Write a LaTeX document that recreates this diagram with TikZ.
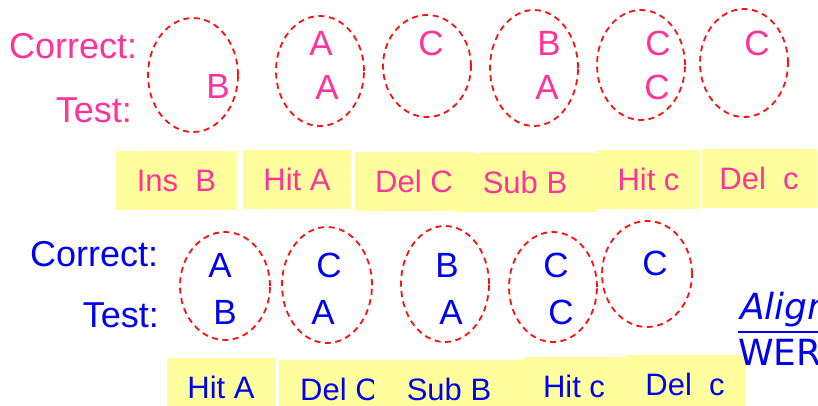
\documentclass[tikz,border=0pt]{standalone}
\usepackage{fontspec}
\setmainfont{Liberation Sans}
\newfontfamily\alignfont{DejaVu Sans}
\usetikzlibrary{shapes.geometric}
\definecolor{werpink}{HTML}{FF3399}
\definecolor{werblue}{HTML}{0000F0}
\definecolor{werred}{HTML}{FF1010}
\definecolor{weryellow}{HTML}{FFFF9E}

\begin{document}
\begin{tikzpicture}[x=1pt,y=-1pt,
  tag/.style={inner sep=0pt,font=\fontsize{36}{36}\selectfont},
  sym/.style={inner sep=0pt,font=\fontsize{35}{35}\selectfont},
  pair/.style={ellipse,draw=werred,line width=1.8pt,dash pattern=on 6pt off 4.5pt,inner sep=0pt},
  op/.style={rectangle,fill=weryellow,inner sep=0pt,minimum height=59pt,font=\fontsize{31}{31}\selectfont}]
  \useasboundingbox (0,0) rectangle (818,405);
  \clip (0,0) rectangle (818,405);

  % first alignment (pink)
  \node[tag,text=werpink,anchor=west] (corA) at (9,46) {Correct:};
  \node[tag,text=werpink,anchor=east] (tstA) at (132,110) {Test:};
  \node[pair,minimum width=90pt,minimum height=114pt] (pa1) at (193,75) {};
  \node[pair,minimum width=88pt,minimum height=110pt] (pa2) at (320,71) {};
  \node[pair,minimum width=88pt,minimum height=102pt] (pa3) at (427,66) {};
  \node[pair,minimum width=88pt,minimum height=116pt] (pa4) at (534,68) {};
  \node[pair,minimum width=88pt,minimum height=110pt] (pa5) at (641,65) {};
  \node[pair,minimum width=88pt,minimum height=108pt] (pa6) at (744,63) {};
  \node[sym,text=werpink] (ta1) at (218,86) {B};
  \node[sym,text=werpink] (ca2) at (321,43) {A};
  \node[sym,text=werpink] (ta2) at (327,87) {A};
  \node[sym,text=werpink] (ca3) at (431,43) {C};
  \node[sym,text=werpink] (ca4) at (549,43) {B};
  \node[sym,text=werpink] (ta4) at (547,87) {A};
  \node[sym,text=werpink] (ca5) at (658,43) {C};
  \node[sym,text=werpink] (ta5) at (657,87) {C};
  \node[sym,text=werpink] (ca6) at (757,43) {C};

  \node[op,text=werpink,minimum width=121pt] (oa1) at (176.5,180.5) {Ins~~B};
  \node[op,text=werpink,minimum width=108pt] (oa2) at (297,179) {Hit A};
  \node[op,text=werpink,minimum width=118pt] (oa3) at (414,181.5) {Del C};
  \node[op,text=werpink,minimum width=144pt] (oa4) at (525,182.5) {Sub B};
  \node[op,text=werpink,minimum width=103pt] (oa5) at (648.5,179.5) {Hit c};
  \node[op,text=werpink,minimum width=116pt] (oa6) at (759,178.5) {Del~~c};

  % second alignment (blue)
  \node[tag,text=werblue,anchor=west] (corB) at (30,254) {Correct:};
  \node[tag,text=werblue,anchor=east] (tstB) at (159,315) {Test:};
  \node[pair,minimum width=90pt,minimum height=108pt] (pb1) at (225,286) {};
  \node[pair,minimum width=90pt,minimum height=116pt] (pb2) at (327,285) {};
  \node[pair,minimum width=88pt,minimum height=116pt] (pb3) at (445,284) {};
  \node[pair,minimum width=88pt,minimum height=110pt] (pb4) at (553,287) {};
  \node[pair,minimum width=90pt,minimum height=106pt] (pb5) at (647,274) {};
  \node[sym,text=werblue] (cb1) at (220,265) {A};
  \node[sym,text=werblue] (tb1) at (225,312) {B};
  \node[sym,text=werblue] (cb2) at (329,265) {C};
  \node[sym,text=werblue] (tb2) at (323,312) {A};
  \node[sym,text=werblue] (cb3) at (447,265) {B};
  \node[sym,text=werblue] (tb3) at (451,312) {A};
  \node[sym,text=werblue] (cb4) at (556,265) {C};
  \node[sym,text=werblue] (tb4) at (561,312) {C};
  \node[sym,text=werblue] (cb5) at (655,263) {C};

  \node[op,text=werblue,minimum width=108pt] (ob1) at (221,387) {Hit A};
  \node[op,text=werblue,minimum width=120pt] (ob2) at (339,389) {Del C};
  \node[op,text=werblue,minimum width=150pt] (ob3) at (449,389) {Sub B};
  \node[op,text=werblue,minimum width=102pt] (ob4) at (574,386) {Hit c};
  \node[op,text=werblue,minimum width=121pt] (ob5) at (685,384) {Del~~c};

  \node[text=werblue,inner sep=0pt,anchor=base west,font=\fontsize{36}{36}\alignfont\itshape] (aln) at (740,319) {Align};
  \node[text=werblue,inner sep=0pt,anchor=base west,font=\fontsize{36}{36}\alignfont] (wer) at (738,365) {WER};
  \draw[werblue,line width=2pt] (738,332) -- (818,332);
\end{tikzpicture}
\end{document}
